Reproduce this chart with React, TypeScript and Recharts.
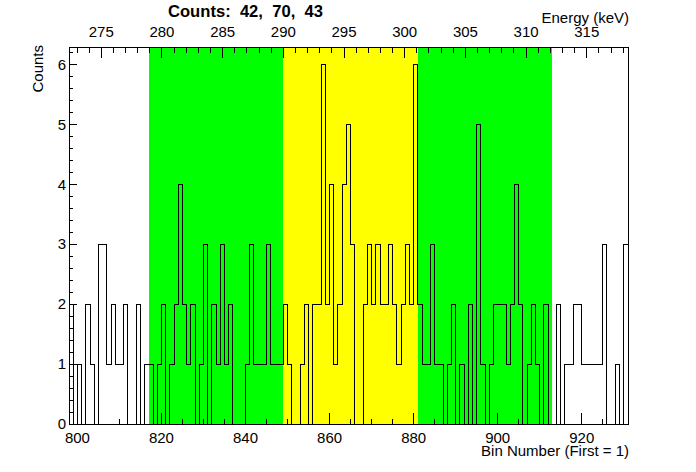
import React from "react";
import { ComposedChart, Line, XAxis, YAxis, ReferenceArea } from "recharts";

// histogram contents, one value per bin, first bin is 798
const firstBin = 798;
const lastEdge = 931;
const counts = [
  // 798-816
  2, 0, 1, 0, 2, 1, 0, 3, 3, 1, 2, 1, 1, 2, 0, 0, 2, 0, 1,
  // 817-848 (green)
  1, 0, 1, 2, 0, 1, 2, 4, 2, 1, 2, 0, 1, 3, 0, 2, 1, 3, 1, 2, 0, 0, 0, 1, 3, 1, 1, 1, 3, 1, 1, 1,
  // 849-880 (yellow)
  2, 1, 0, 0, 1, 2, 0, 2, 2, 6, 2, 4, 1, 2, 4, 5, 3, 0, 0, 2, 3, 2, 3, 2, 2, 3, 2, 1, 2, 3, 2, 6,
  // 881-912 (green)
  2, 1, 1, 3, 1, 1, 0, 1, 2, 0, 1, 0, 2, 0, 5, 1, 0, 1, 2, 2, 2, 1, 2, 4, 2, 0, 1, 2, 1, 0, 2, 0,
  // 913-930
  0, 2, 0, 1, 1, 2, 2, 1, 1, 1, 1, 1, 3, 0, 0, 1, 0, 3,
];

// shaded windows (bin edges) and their integrals shown in the title
const regionFrom = [817, 849, 881];
const regionTo = [849, 881, 913];
const regionFill = ["#00ff00", "#ffff00", "#00ff00"];
const regionCounts = [42, 70, 43];

// linear energy calibration of the bin axis
const energyAtFirstBin = 272.34;
const keVPerBin = 0.3463;
const toEnergy = (bin: number) => energyAtFirstBin + (bin - firstBin) * keVPerBin;
const energyDomain = [toEnergy(firstBin), toEnergy(lastEdge)];

const binLabels = [800, 820, 840, 860, 880, 900, 920];
const binTicks = [
  800, 805, 810, 815, 820, 825, 830, 835, 840, 845, 850, 855, 860, 865, 870,
  875, 880, 885, 890, 895, 900, 905, 910, 915, 920, 925, 930,
];
const energyLabels = [275, 280, 285, 290, 295, 300, 305, 310, 315];
const energyTicks = [
  273, 274, 275, 276, 277, 278, 279, 280, 281, 282, 283, 284, 285, 286, 287,
  288, 289, 290, 291, 292, 293, 294, 295, 296, 297, 298, 299, 300, 301, 302,
  303, 304, 305, 306, 307, 308, 309, 310, 311, 312, 313, 314, 315, 316, 317, 318,
];
const countLabels = [0, 1, 2, 3, 4, 5, 6];
const countTicks = [
  0, 0.2, 0.4, 0.6, 0.8, 1, 1.2, 1.4, 1.6, 1.8, 2, 2.2, 2.4, 2.6, 2.8, 3, 3.2,
  3.4, 3.6, 3.8, 4, 4.2, 4.4, 4.6, 4.8, 5, 5.2, 5.4, 5.6, 5.8, 6, 6.2,
];
const countMax = 6.3;

// stepAfter needs one closing point on the last upper edge
const rows = counts
  .map((c, i) => ({ bin: firstBin + i, count: c }))
  .concat([{ bin: lastEdge, count: counts[counts.length - 1] }]);

const FONT = "'Liberation Sans', Arial, Helvetica, sans-serif";
const isOn = (list: number[], v: number) => list.some((l) => Math.abs(l - v) < 1e-6);

function BinTick(props: any) {
  const { x, y, payload } = props;
  const major = isOn(binLabels, payload.value);
  return (
    <g>
      <line x1={x} x2={x} y1={y} y2={y - (major ? 11 : 5.5)} stroke="#000" />
      {major && (
        <text x={x} y={y + 19} textAnchor="middle" fontSize={15} fill="#000" fontFamily={FONT}>
          {payload.value}
        </text>
      )}
    </g>
  );
}

function EnergyTick(props: any) {
  const { x, y, payload } = props;
  const major = isOn(energyLabels, payload.value);
  return (
    <g>
      <line x1={x} x2={x} y1={y} y2={y + (major ? 11 : 5.5)} stroke="#000" />
      {major && (
        <text x={x} y={y - 10} textAnchor="middle" fontSize={15} fill="#000" fontFamily={FONT}>
          {payload.value}
        </text>
      )}
    </g>
  );
}

function CountTick(props: any) {
  const { x, y, payload } = props;
  const major = isOn(countLabels, payload.value);
  return (
    <g>
      <line x1={x} x2={x + (major ? 8 : 4)} y1={y} y2={y} stroke="#000" />
      {major && (
        <text x={x - 3} y={y + 5} textAnchor="end" fontSize={15} fill="#000" fontFamily={FONT}>
          {payload.value}
        </text>
      )}
    </g>
  );
}

export default function App() {
  return (
    <div
      style={{
        position: "absolute",
        left: 0,
        top: 0,
        width: 696,
        height: 472,
        background: "#fff",
        fontFamily: FONT,
      }}
    >
      <style>{`.recharts-wrapper svg line, .recharts-wrapper svg path, .recharts-wrapper svg rect { shape-rendering: crispEdges; }`}</style>
      <ComposedChart
        width={696}
        height={472}
        data={rows}
        margin={{ top: 17, right: 68, bottom: 18, left: 29 }}
      >
        {regionFrom.map((from, i) => (
          <ReferenceArea
            key={`region_${i}`}
            xAxisId="bin"
            yAxisId="count"
            x1={from}
            x2={regionTo[i]}
            y1={0}
            y2={countMax}
            fill={regionFill[i]}
            fillOpacity={1}
            stroke="none"
            ifOverflow="visible"
          />
        ))}
        <Line
          xAxisId="bin"
          yAxisId="count"
          type="stepAfter"
          dataKey="count"
          stroke="#000"
          strokeWidth={1}
          dot={false}
          activeDot={false}
          isAnimationActive={false}
        />
        {/* carries the energy axis so that it gets its scale */}
        <Line
          xAxisId="energy"
          yAxisId="count"
          type="stepAfter"
          dataKey="count"
          stroke="none"
          dot={false}
          activeDot={false}
          legendType="none"
          isAnimationActive={false}
        />
        <ReferenceArea
          xAxisId="bin"
          yAxisId="count"
          x1={firstBin}
          x2={lastEdge}
          y1={0}
          y2={countMax}
          fill="none"
          stroke="#000"
          strokeWidth={1}
          ifOverflow="visible"
        />
        <XAxis
          xAxisId="bin"
          type="number"
          dataKey="bin"
          domain={[firstBin, lastEdge]}
          allowDataOverflow
          ticks={binTicks}
          interval={0}
          tickSize={0}
          tickMargin={0}
          tickLine={false}
          axisLine={false}
          height={30}
          tick={(p: any) => <BinTick {...p} />}
        />
        <XAxis
          xAxisId="energy"
          orientation="top"
          type="number"
          dataKey={(r: any) => toEnergy(r.bin)}
          domain={energyDomain}
          allowDataOverflow
          ticks={energyTicks}
          interval={0}
          tickSize={0}
          tickMargin={0}
          tickLine={false}
          axisLine={false}
          height={30}
          tick={(p: any) => <EnergyTick {...p} />}
        />
        <YAxis
          yAxisId="count"
          type="number"
          domain={[0, countMax]}
          allowDataOverflow
          ticks={countTicks}
          interval={0}
          tickSize={0}
          tickMargin={0}
          tickLine={false}
          axisLine={false}
          width={40}
          tick={(p: any) => <CountTick {...p} />}
        />
      </ComposedChart>
      <div
        style={{
          position: "absolute",
          left: 168,
          top: 3,
          fontSize: 16.6,
          fontWeight: "bold",
          whiteSpace: "pre",
          lineHeight: "18px",
        }}
      >
        {`Counts:  ${regionCounts[0]},  ${regionCounts[1]},  ${regionCounts[2]}`}
      </div>
      <div
        style={{
          position: "absolute",
          right: 696 - 629,
          top: 9,
          fontSize: 15,
          whiteSpace: "pre",
          lineHeight: "17px",
        }}
      >
        Energy (keV)
      </div>
      <div
        style={{
          position: "absolute",
          right: 696 - 629,
          top: 442,
          fontSize: 15,
          whiteSpace: "pre",
          lineHeight: "17px",
        }}
      >
        Bin Number (First = 1)
      </div>
      <div
        style={{
          position: "absolute",
          left: 29,
          top: 45,
          fontSize: 15,
          whiteSpace: "pre",
          lineHeight: "17px",
          transform: "rotate(-90deg) translateX(-100%)",
          transformOrigin: "0 0",
        }}
      >
        Counts
      </div>
    </div>
  );
}
